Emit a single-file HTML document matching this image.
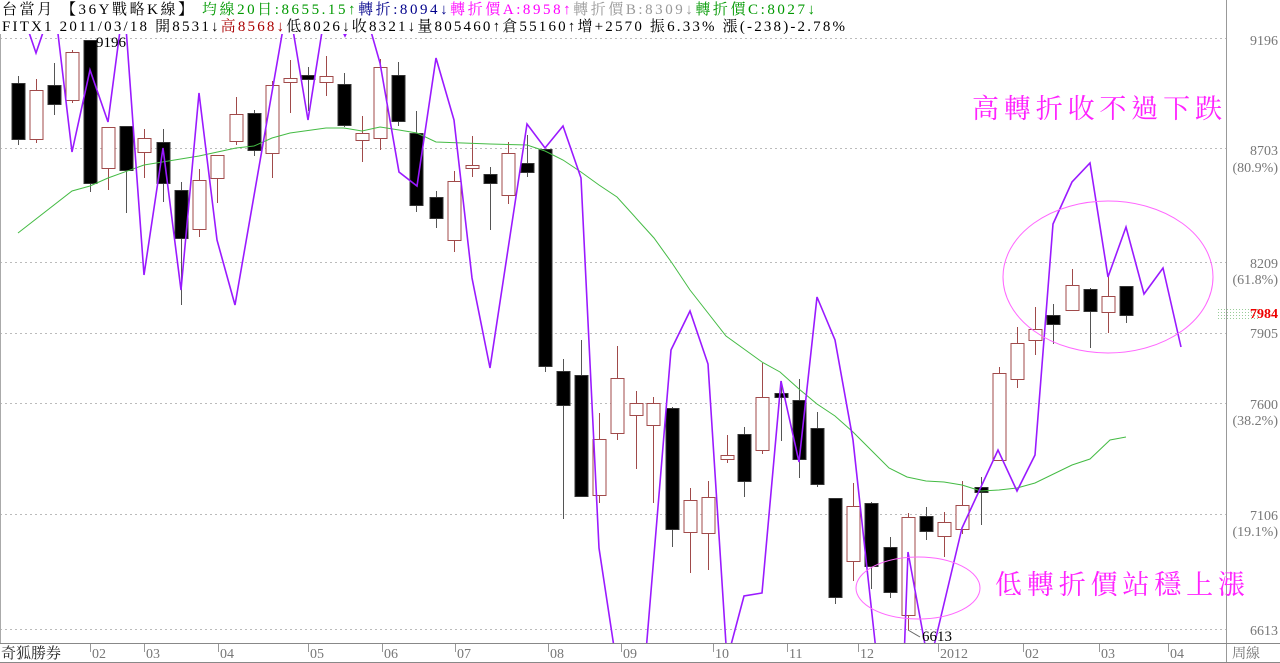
<!DOCTYPE html>
<html><head><meta charset="utf-8"><style>
html,body{margin:0;padding:0;background:#fff;width:1280px;height:663px;overflow:hidden}
svg{display:block}
.t{font-family:"Liberation Serif","Noto Serif CJK TC",serif;font-size:15px}
.ax{font-family:"Liberation Serif","Noto Serif CJK TC",serif;font-size:14px;fill:#777}
</style></head><body>
<svg width="1280" height="663" viewBox="0 0 1280 663">
<defs><clipPath id="c"><rect x="0" y="34" width="1226" height="609"/></clipPath>
<pattern id="gd" width="3" height="3" patternUnits="userSpaceOnUse"><rect width="1" height="1" fill="#9c9"/></pattern></defs>
<rect width="1280" height="663" fill="#fff"/>
<g stroke="#bbb" stroke-dasharray="2,3" stroke-width="1">
<line x1="0" x2="1226" y1="38.5" y2="38.5"/><line x1="0" x2="1226" y1="148.5" y2="148.5"/>
<line x1="0" x2="1226" y1="262.5" y2="262.5"/><line x1="0" x2="1226" y1="333.5" y2="333.5"/>
<line x1="0" x2="1226" y1="403.5" y2="403.5"/><line x1="0" x2="1226" y1="514.5" y2="514.5"/>
<line x1="0" x2="1226" y1="629.5" y2="629.5"/></g>
<line x1="1226.5" y1="0" x2="1226.5" y2="663" stroke="#999"/>
<line x1="0.5" y1="34" x2="0.5" y2="643" stroke="#aaa"/>
<line x1="0" y1="643.5" x2="1280" y2="643.5" stroke="#888"/>
<g clip-path="url(#c)">
<!-- bear wicks -->
<g stroke="#555">
<path d="M18.5 76V145M54.5 63V115M90.5 40V192M126.5 126V213M163.5 129V202M181.5 182V305M254.5 110V156M308.5 67V111M344.5 73V127M398.5 62V126M416.5 111V212M436.5 191V228M490.5 167V230M527.5 135V177M545.5 149V372M563.5 359V519M581.5 340V497M672.5 407V547M744.5 427V497M781.5 381V441M799.5 379V478M817.5 412V487M835.5 498V604M871.5 502V589M890.5 537V598M926.5 507V540M981.5 477V525M1053.5 304V344M1090.5 288V348M1126.5 286V323"/>
</g>
<g fill="#000" stroke="#333">
<rect x="12" y="83.5" width="13" height="56"/><rect x="48" y="85.5" width="13" height="19"/><rect x="84" y="40.5" width="13" height="143"/>
<rect x="120" y="126.5" width="13" height="44"/><rect x="157" y="142.5" width="13" height="41"/><rect x="175" y="190.5" width="13" height="48"/>
<rect x="248" y="113.5" width="13" height="37"/><rect x="302" y="75.5" width="13" height="4"/><rect x="338" y="84.5" width="13" height="41"/>
<rect x="392" y="75.5" width="13" height="46"/><rect x="410" y="133.5" width="13" height="72"/><rect x="430" y="197.5" width="13" height="21"/>
<rect x="484" y="174.5" width="13" height="9"/><rect x="521" y="163.5" width="13" height="9"/><rect x="539" y="149.5" width="13" height="217"/>
<rect x="557" y="371.5" width="13" height="34"/><rect x="575" y="375.5" width="13" height="121"/><rect x="666" y="408.5" width="13" height="121"/>
<rect x="738" y="434.5" width="13" height="47"/><rect x="775" y="393.5" width="13" height="4"/><rect x="793" y="400.5" width="13" height="59"/>
<rect x="811" y="428.5" width="13" height="56"/><rect x="829" y="498.5" width="13" height="99"/><rect x="865" y="503.5" width="13" height="63"/>
<rect x="884" y="547.5" width="13" height="45"/><rect x="920" y="516.5" width="13" height="15"/><rect x="975" y="487.5" width="13" height="5"/>
<rect x="1047" y="315.5" width="13" height="9"/><rect x="1084" y="289.5" width="13" height="22"/><rect x="1120" y="286.5" width="13" height="29"/>
</g>
<!-- bull -->
<g stroke="#a04a4a">
<path d="M36.5 79V143M72.5 50V103M108.5 127V190M144.5 129V178M199.5 169V237M217.5 155V203M236.5 97V145M272.5 81V178M290.5 60V113M326.5 56V96M362.5 116V162M380.5 59V150M454.5 171V252M472.5 136V177M508.5 142V204M599.5 413V503M617.5 346V440M636.5 391V469M653.5 397V503M690.5 488V573M708.5 481V570M727.5 435V463M762.5 363V454M853.5 483V581M908.5 513V630M944.5 512V557M962.5 481V534M999.5 367V460M1017.5 327V388M1035.5 307V355M1072.5 269V311M1108.5 276V333"/>
<g fill="#fff">
<rect x="30" y="90.5" width="13" height="49"/><rect x="66" y="52.5" width="13" height="48"/><rect x="102" y="127.5" width="13" height="41"/>
<rect x="138" y="138.5" width="13" height="14"/><rect x="193" y="180.5" width="13" height="49"/><rect x="211" y="155.5" width="13" height="23"/>
<rect x="230" y="114.5" width="13" height="27"/><rect x="266" y="85.5" width="13" height="68"/><rect x="284" y="78.5" width="13" height="4"/>
<rect x="320" y="76.5" width="13" height="6"/><rect x="356" y="133.5" width="13" height="7"/><rect x="374" y="67.5" width="13" height="71"/>
<rect x="448" y="181.5" width="13" height="59"/><rect x="466" y="165.5" width="13" height="3"/><rect x="502" y="153.5" width="13" height="42"/>
<rect x="593" y="439.5" width="13" height="56"/><rect x="611" y="378.5" width="13" height="55"/><rect x="630" y="403.5" width="13" height="12"/>
<rect x="647" y="403.5" width="13" height="22"/><rect x="684" y="500.5" width="13" height="32"/><rect x="702" y="497.5" width="13" height="36"/>
<rect x="721" y="455.5" width="13" height="4"/><rect x="756" y="397.5" width="13" height="53"/><rect x="847" y="506.5" width="13" height="55"/>
<rect x="902" y="517.5" width="13" height="98"/><rect x="938" y="522.5" width="13" height="14"/><rect x="956" y="505.5" width="13" height="24"/>
<rect x="993" y="373.5" width="13" height="87"/><rect x="1011" y="343.5" width="13" height="36"/><rect x="1029" y="329.5" width="13" height="11"/>
<rect x="1066" y="285.5" width="13" height="25"/><rect x="1102" y="296.5" width="13" height="16"/>
</g></g>
<polyline fill="none" stroke="#44bb44" stroke-width="1" points="18,233 72,191 90,186 108,178 144,165 199,156 236,148 254,146 272,138 290,133 326,128 344,128 362,131 380,127 399,130 417,133 436,142 490,144 527,145 545,151 563,160 581,172 599,185 617,197 654,238 672,263 690,290 708,313 726,336 744,349 762,362 780,372 799,389 817,404 835,416 853,432 871,450 889,468 907,477 926,481 944,482 962,485 981,491 999,490 1017,488 1035,483 1072,465 1090,459 1110,440 1126,437"/>
<polyline fill="none" stroke="#9a1aff" stroke-width="1.6" points="18,0 36,53 54,0 72,152 90,70 108,122 124,0 144,275 163,148 181,290 199,93 217,240 235,305 288,0 308,120 327,0 345,36 362,0 380,63 399,172 417,186 436,58 454,120 472,278 490,368 527,124 545,148 563,126 581,178 599,548 622,700 642,700 671,350 690,311 708,364 727,660 744,596 762,593 781,381 799,462 817,297 835,340 853,440 877,660 904,660 908,552 926,650 933,650 962,528 998,450 1017,491 1035,455 1053,224 1072,182 1090,163 1108,277 1126,227 1144,294 1163,268 1181,347"/>
<ellipse cx="1108" cy="277" rx="105" ry="76" fill="none" stroke="#ff66ff" stroke-width="1"/>
<ellipse cx="918" cy="588" rx="62" ry="31" fill="none" stroke="#ff66ff" stroke-width="1"/>
</g>
<text x="972" y="118" font-family="Liberation Serif,'Noto Serif CJK TC',serif" font-size="27" fill="#ff22ff" textLength="250" lengthAdjust="spacing">高轉折收不過下跌</text>
<text x="995" y="594" font-family="Liberation Serif,'Noto Serif CJK TC',serif" font-size="27" fill="#ff22ff" textLength="250" lengthAdjust="spacing">低轉折價站穩上漲</text>
<text x="96" y="47" class="t" fill="#000">9196</text>
<text x="922" y="641" class="t" fill="#000">6613</text>
<line x1="908" y1="630" x2="920" y2="637" stroke="#666"/>
<g class="ax" text-anchor="end">
<text x="1278" y="45">9196</text><text x="1278" y="155">8703</text><text x="1278" y="172">(80.9%)</text>
<text x="1278" y="268">8209</text><text x="1278" y="284">(61.8%)</text>
<text x="1278" y="338">7905</text>
<text x="1278" y="409">7600</text><text x="1278" y="425">(38.2%)</text>
<text x="1278" y="520">7106</text><text x="1278" y="536">(19.1%)</text>
<text x="1278" y="635">6613</text></g>
<rect x="1218" y="308" width="42" height="12" fill="url(#gd)"/>
<text x="1278" y="318" text-anchor="end" font-family="Liberation Serif,serif" font-size="14" font-weight="bold" fill="#e00">7984</text>
<g class="ax" fill="#777">
<text x="92" y="658">02</text><text x="146" y="658">03</text><text x="220" y="658">04</text><text x="310" y="658">05</text>
<text x="384" y="658">06</text><text x="457" y="658">07</text><text x="550" y="658">08</text><text x="623" y="658">09</text>
<text x="715" y="658">10</text><text x="789" y="658">11</text><text x="860" y="658">12</text><text x="940" y="658">2012</text>
<text x="1025" y="658">02</text><text x="1101" y="658">03</text><text x="1170" y="658">04</text><text x="1232" y="658">周線</text></g>
<g stroke="#999">
<path d="M90.5 644V652M144.5 644V652M218.5 644V652M308.5 644V652M382.5 644V652M455.5 644V652M548.5 644V652M621.5 644V652M713.5 644V652M787.5 644V652M858.5 644V652M938.5 644V652M1023.5 644V652M1099.5 644V652M1168.5 644V652"/></g>
<text x="1" y="658" class="t" fill="#222">奇狐勝券</text>
<line x1="0" y1="662.5" x2="1280" y2="662.5" stroke="#888"/>
<text x="2" y="14" class="t" textLength="813" lengthAdjust="spacing"><tspan fill="#000">台當月 【36Y戰略K線】 </tspan><tspan fill="#090">均線20日:8655.15↑</tspan><tspan fill="#00008b">轉折:8094↓</tspan><tspan fill="#f0f">轉折價A:8958↑</tspan><tspan fill="#999">轉折價B:8309↓</tspan><tspan fill="#090">轉折價C:8027↓</tspan></text>
<text x="2" y="31" class="t" textLength="843" lengthAdjust="spacing"><tspan fill="#000">FITX1 2011/03/18 開8531↓</tspan><tspan fill="#a00">高8568↓</tspan><tspan fill="#000">低8026↓收8321↓量805460↑倉55160↑增+2570 振6.33% 漲(-238)-2.78%</tspan></text>
</svg>
</body></html>
